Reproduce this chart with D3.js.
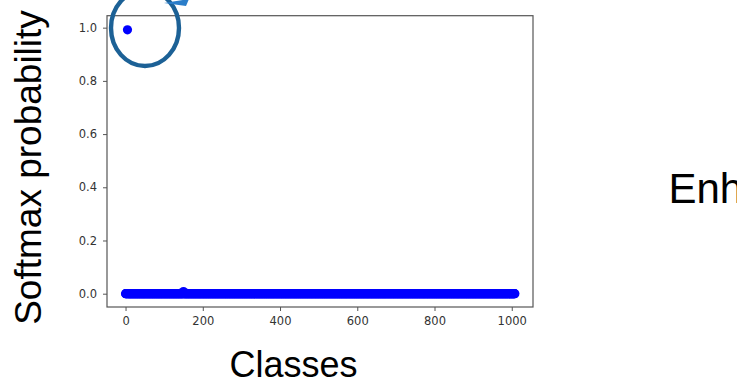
<!DOCTYPE html>
<html>
<head>
<meta charset="utf-8">
<script src="https://cdn.jsdelivr.net/npm/d3@7/dist/d3.min.js"></script>
<style>
  html, body { margin: 0; padding: 0; background: #fff; }
  svg { display: block; }
  .tick text { font-family: "DejaVu Sans", sans-serif; font-size: 11.5px; fill: #333; }
  .big { font-family: "Liberation Sans", Arial, sans-serif; fill: #000; }
</style>
</head>
<body>
<svg id="chart" width="737" height="382"></svg>
<script>
// Softmax output over the classifier's classes
const numClasses = 1009;            // class indices 0 .. 1008
const peakClasses = [5, 150];       // classes with visible probability
const peakProbs = [0.992, 0.008];
const xTicks = [0, 200, 400, 600, 800, 1000];
const yTicks = [0.0, 0.2, 0.4, 0.6, 0.8, 1.0];
const xTitle = "Classes";
const yTitle = "Softmax probability";
const sideText = "Enh";

// every other class sits at ~0
const probs = new Map(peakClasses.map((c, i) => [c, peakProbs[i]]));
const points = d3.range(numClasses).map(c => ({ cls: c, p: probs.has(c) ? probs.get(c) : 0 }));

const svg = d3.select("#chart");
const plot = { left: 107, right: 533, top: 15.7, bottom: 307 };

const x = d3.scaleLinear().domain([-48, 1055]).range([plot.left, plot.right]);
const y = d3.scaleLinear().domain([-0.05, 1.045]).range([plot.bottom, plot.top]);

// points: baseline classes first, peaks on top
const ordered = points.filter(d => d.p === 0).concat(points.filter(d => d.p !== 0));
svg.append("g").selectAll("circle").data(ordered).join("circle")
  .attr("cx", d => x(d.cls))
  .attr("cy", d => y(d.p))
  .attr("r", 4.6)
  .attr("fill", "#0000ff");

// frame
svg.append("rect")
  .attr("x", plot.left).attr("y", plot.top)
  .attr("width", plot.right - plot.left).attr("height", plot.bottom - plot.top)
  .attr("fill", "none").attr("stroke", "#555").attr("stroke-width", 1.2);

// axes
const xAxis = svg.append("g").attr("transform", `translate(0,${plot.bottom})`)
  .call(d3.axisBottom(x).tickValues(xTicks).tickFormat(d3.format("d")).tickSize(4).tickPadding(6));
const yAxis = svg.append("g").attr("transform", `translate(${plot.left},0)`)
  .call(d3.axisLeft(y).tickValues(yTicks).tickFormat(d3.format(".1f")).tickSize(4).tickPadding(6));
[xAxis, yAxis].forEach(a => {
  a.select(".domain").remove();
  a.selectAll(".tick line").attr("stroke", "#555").attr("stroke-width", 1);
});

// titles
svg.append("text").attr("class", "big")
  .attr("x", 293.5).attr("y", 377)
  .attr("text-anchor", "middle").attr("font-size", 36)
  .text(xTitle);
svg.append("text").attr("class", "big")
  .attr("transform", "translate(41,167.5) rotate(-90)")
  .attr("text-anchor", "middle").attr("font-size", 37)
  .text(yTitle);
svg.append("text").attr("class", "big")
  .attr("x", 668.5).attr("y", 203).attr("font-size", 42)
  .text(sideText);

// highlight ring around the top prediction
svg.append("ellipse")
  .attr("cx", 145).attr("cy", 28).attr("rx", 34).attr("ry", 38)
  .attr("fill", "none").attr("stroke", "#1c6196").attr("stroke-width", 4.4);
svg.append("polygon")
  .attr("points", "164,3 189,-1 186,6")
  .attr("fill", "#2a7dc9");
</script>
</body>
</html>
